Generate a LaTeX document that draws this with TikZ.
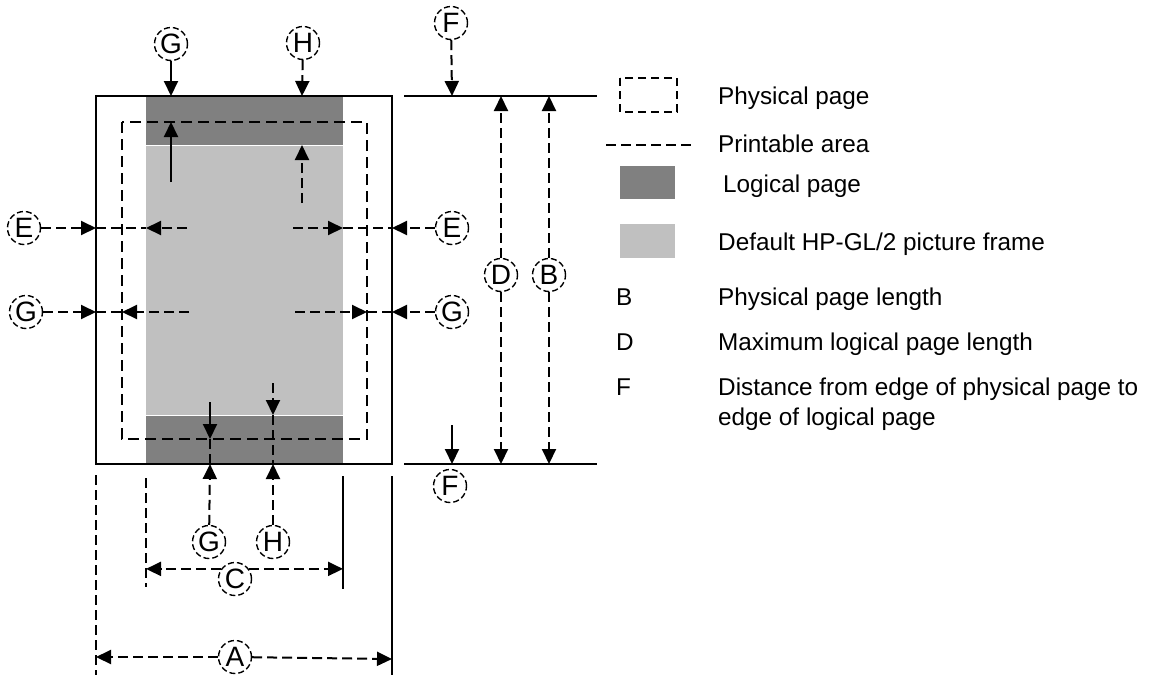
\documentclass[tikz,border=0pt]{standalone}
\usepackage{fontspec}
\setmainfont{Liberation Sans}
\usetikzlibrary{arrows.meta}

\definecolor{logicalgray}{RGB}{128,128,128}
\definecolor{framegray}{RGB}{192,192,192}

\begin{document}
\begin{tikzpicture}[
    x=1pt, y=-1pt,
    every node/.style={font=\fontsize{24.3}{30}\selectfont},
    tag/.style={circle, draw=black, line width=1.4pt, dash pattern=on 6pt off 3pt, minimum size=33pt, inner sep=0pt, font=\fontsize{28}{30}\selectfont},
    frame/.style={draw=black, line width=2pt},
    printarea/.style={draw=black, line width=2pt, dash pattern=on 11pt off 6pt},
    dimline/.style={line width=2pt, dash pattern=on 10pt off 5pt},
    arrow/.style={line width=2pt, -{Triangle[length=15pt,width=14pt]}},
    darrow/.style={arrow, dash pattern=on 10pt off 5pt},
    lbl/.style={anchor=west, inner sep=0pt, align=left}
]
\useasboundingbox (0,0) rectangle (1150,675);

% PAGES
\fill[framegray] (146,145) rectangle (343,415);
\fill[logicalgray] (146,96) rectangle (343,145);
\fill[logicalgray] (146,415) rectangle (343,464);
\draw[white, line width=1pt] (146,145) -- (343,145);
\draw[white, line width=1pt] (146,415) -- (343,415);
\draw[frame] (96,96) rectangle (392,464);
\draw[printarea] (122,122) rectangle (367,439);
\draw[frame] (404,96) -- (597,96);
\draw[frame] (404,464) -- (597,464);

% NODES
\node[tag] (Gtop) at (171,44) {G};
\node[tag] (Htop) at (303,43) {H};
\node[tag] (Eleft) at (24,228) {E};
\node[tag] (Eright) at (452,228) {E};
\node[tag] (Gleft) at (26,312) {G};
\node[tag] (Gright) at (452,312) {G};
\node[tag] (Ftop) at (451,23) {F};
\node[tag] (Fbot) at (450,486) {F};
\node[tag] (Dlen) at (501,275) {D};
\node[tag] (Blen) at (549,275) {B};
\node[tag] (Gbot) at (209,542) {G};
\node[tag] (Hbot) at (273,542) {H};
\node[tag] (Cwid) at (235,579) {C};
\node[tag] (Awid) at (235,657) {A};

\coordinate (cL) at (146,569);
\coordinate (cR) at (343,569);

% ARROWS
\draw[arrow] (Gtop) -- (171,96);
\draw[arrow] (171,182) -- (171,122);
\draw[darrow] (Htop) -- (302,96);
\draw[darrow] (302,203) -- (302,145);

\draw[darrow] (Eleft) -- (96,228);
\draw[dimline] (96,228) -- (146,228);
\draw[darrow] (187,228) -- (146,228);
\draw[darrow] (Eright) -- (392,228);
\draw[dimline] (343,228) -- (392,228);
\draw[darrow] (293,228) -- (343,228);

\draw[darrow] (Gleft) -- (96,312);
\draw[dimline] (96,312) -- (122,312);
\draw[darrow] (189,312) -- (122,312);
\draw[darrow] (Gright) -- (392,312);
\draw[dimline] (367,312) -- (392,312);
\draw[darrow] (295,312) -- (367,312);

\draw[darrow] (Ftop) -- (452,96);
\draw[arrow] (452,425) -- (452,464);
\draw[darrow] (Dlen) -- (501,96);
\draw[darrow] (Dlen) -- (501,464);
\draw[darrow] (Blen) -- (549,96);
\draw[darrow] (Blen) -- (549,464);

\draw[arrow] (210,402) -- (210,439);
\draw[dimline] (210,439) -- (210,464);
\draw[darrow] (Gbot) -- (210,464);
\draw[darrow] (273,383) -- (273,415);
\draw[dimline] (273,415) -- (273,464);
\draw[darrow] (Hbot) -- (273,464);

\draw[dimline] (146,478) -- (146,587);
\draw[frame] (343,476) -- (343,589);
\draw[darrow] (Cwid.144) -- (Cwid.144 -| cL);
\draw[darrow] (Cwid.36) -- (Cwid.36 -| cR);

\draw[dimline] (96,475) -- (96,675);
\draw[frame] (392,476) -- (392,675);
\draw[darrow] (Awid) -- (96,657);
\draw[darrow] (Awid) -- (392,659);

% LEGEND
\draw[black, line width=1.5pt, dash pattern=on 8pt off 5pt] (620,78) rectangle (677,112);
\node[lbl] (tphys) at (718,98) {Physical page};
\draw[dimline] (606,145) -- (695,145);
\node[lbl] (tprint) at (718,144) {Printable area};
\fill[logicalgray] (620,166) rectangle (675,199);
\node[lbl] (tlog) at (723,186) {Logical page};
\fill[framegray] (620,224) rectangle (675,258);
\node[lbl] (tframe) at (718,244) {Default HP-GL/2 picture frame};
\node[lbl] (kB) at (616,297) {B};
\node[lbl] (tB) at (718,299) {Physical page length};
\node[lbl] (kD) at (616,342) {D};
\node[lbl] (tD) at (718,344) {Maximum logical page length};
\node[lbl] (kF) at (616,387) {F};
\node[lbl] (tF) at (718,404) {Distance from edge of physical page to\\edge of logical page};

\end{tikzpicture}
\end{document}
